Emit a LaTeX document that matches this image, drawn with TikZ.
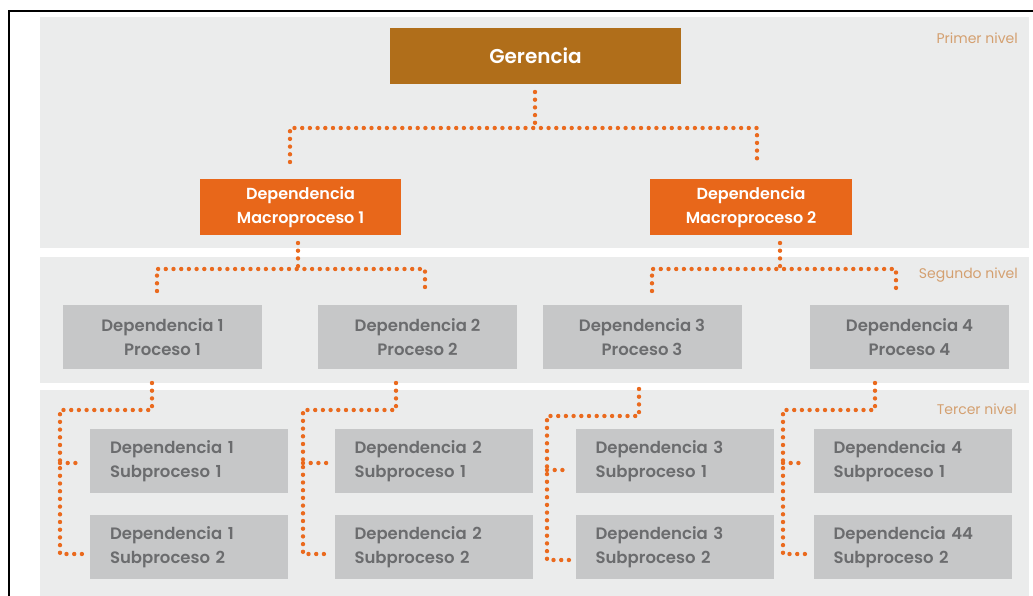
\documentclass[tikz,border=0pt]{standalone}
\usepackage{fontspec}
\setmainfont{Poppins}[BoldFont=* SemiBold]
\usetikzlibrary{calc}
\definecolor{bandgray}{HTML}{EBECEC}
\definecolor{boxgray}{HTML}{C6C7C8}
\definecolor{txtgray}{HTML}{6B6C6E}
\definecolor{gercol}{HTML}{B06E1A}
\definecolor{macrocol}{HTML}{E8671A}
\definecolor{dotcol}{HTML}{EA6A1E}
\definecolor{lvlcol}{HTML}{D4A070}
\tikzset{
  band/.style={fill=bandgray, draw=none},
  basebox/.style={rectangle, inner sep=0pt, font=\bfseries\fontsize{16.5}{24}\selectfont, align=center},
  gerbox/.style={basebox, fill=gercol, text=white, minimum width=291pt, minimum height=56pt, font=\bfseries\fontsize{20}{24}\selectfont},
  macbox/.style={basebox, fill=macrocol, text=white, minimum width=201pt, minimum height=56pt, font=\bfseries\fontsize{16}{24}\selectfont},
  procbox/.style={basebox, fill=boxgray, text=txtgray, minimum width=199pt, minimum height=64pt},
  subbox/.style={basebox, fill=boxgray, text=txtgray, minimum width=198pt, minimum height=64pt, text width=158pt, align=left, inner xsep=20pt},
  lvl/.style={anchor=east, text=lvlcol, font=\fontsize{14}{16}\selectfont, inner sep=0pt},
  dotline/.style={draw=dotcol, line width=4.4pt, line cap=round, dash pattern=on 0pt off 7.7pt},
}
\begin{document}
\begin{tikzpicture}[x=1pt,y=-1pt]
\useasboundingbox (0,0) rectangle (1033,596);
\fill[white] (0,0) rectangle (1033,596);
% bands
\fill[band] (40,17) rectangle (1029,248);
\fill[band] (40,257) rectangle (1029,383);
\fill[band] (40,390) rectangle (1029,596);
% frame
\draw[black, line width=1.8pt] (9,597) -- (9,11) -- (1034,11);
% level labels
\node[lvl] (l1) at (1018,38) {Primer nivel};
\node[lvl] (l2) at (1018,275) {Segundo nivel};
\node[lvl] (l3) at (1017,409) {Tercer nivel};
% nodes
\node[gerbox] (ger) at (535.5,56) {Gerencia};
\node[macbox] (m1) at (300.5,207) {Dependencia\\Macroproceso 1};
\node[macbox, minimum width=202pt] (m2) at (751,207) {Dependencia\\Macroproceso 2};
\node[procbox] (p1) at (162.5,337) {Dependencia 1\\Proceso 1};
\node[procbox] (p2) at (417.5,337) {Dependencia 2\\Proceso 2};
\node[procbox] (p3) at (642,337) {Dependencia 3\\Proceso 3};
\node[procbox] (p4) at (909.5,337) {Dependencia 4\\Proceso 4};
\node[subbox] (s11) at (189,461) {Dependencia 1\\Subproceso 1};
\node[subbox] (s12) at (189,547) {Dependencia 1\\Subproceso 2};
\node[subbox] (s21) at (433.5,461) {Dependencia 2\\Subproceso 1};
\node[subbox] (s22) at (433.5,547) {Dependencia 2\\Subproceso 2};
\node[subbox] (s31) at (674.5,461) {Dependencia 3\\Subproceso 1};
\node[subbox] (s32) at (674.5,547) {Dependencia 3\\Subproceso 2};
\node[subbox] (s41) at (912.5,461) {Dependencia 4\\Subproceso 1};
\node[subbox] (s42) at (912.5,547) {Dependencia 44\\Subproceso 2};
% connector coordinates
\coordinate (g0) at (535,92);
\coordinate (g1) at (535,128);
\coordinate (gl) at (290,128);
\coordinate (gr) at (757,128);
\coordinate (gl2) at (290,162);
\coordinate (gr2) at (757,162);
\draw[dotline] (g0) -- (g1);
\draw[dotline] (gl2) -- (gl) -- (gr) -- (gr2);
% macro 1
\coordinate (a0) at (298,243);
\coordinate (a1) at (298,269);
\coordinate (al) at (157,269);
\coordinate (ar) at (425,269);
\coordinate (al2) at (157,291);
\coordinate (ar2) at (425,291);
\draw[dotline] (a0) -- (a1);
\draw[dotline] (al2) -- (al) -- (ar) -- (ar2);
% macro 2
\coordinate (b0) at (780,243);
\coordinate (b1) at (780,269);
\coordinate (bl) at (652,269);
\coordinate (br) at (896,269);
\coordinate (bl2) at (652,291);
\coordinate (br2) at (896,291);
\draw[dotline] (b0) -- (b1);
\draw[dotline] (bl2) -- (bl) -- (br) -- (br2);
% dep 1
\coordinate (c0) at (152,383);
\coordinate (c1) at (152,410);
\coordinate (c2) at (60,410);
\coordinate (c3) at (60,554);
\coordinate (c4) at (60,463);
\coordinate (c5) at (82,463);
\coordinate (c6) at (85,554);
\draw[dotline] (c0) -- (c1) -- (c2) -- (c3) -- (c6);
\draw[dotline] (c4) -- (c5);
% dep 2
\coordinate (d0) at (396,383);
\coordinate (d1) at (396,410);
\coordinate (d2) at (303,410);
\coordinate (d3) at (303,554);
\coordinate (d4) at (303,463);
\coordinate (d5) at (327,463);
\coordinate (d6) at (327,554);
\draw[dotline] (d0) -- (d1) -- (d2) -- (d3) -- (d6);
\draw[dotline] (d4) -- (d5);
% dep 3
\coordinate (e0) at (639,389);
\coordinate (e1) at (639,416);
\coordinate (e2) at (547,416);
\coordinate (e3) at (547,560);
\coordinate (e4) at (547,470);
\coordinate (e5) at (570,470);
\coordinate (e6) at (570,560);
\draw[dotline] (e0) -- (e1) -- (e2) -- (e3) -- (e6);
\draw[dotline] (e4) -- (e5);
% dep 4
\coordinate (f0) at (875,383);
\coordinate (f1) at (875,410);
\coordinate (f2) at (783,410);
\coordinate (f3) at (783,554);
\coordinate (f4) at (783,463);
\coordinate (f5) at (805,463);
\coordinate (f6) at (807,554);
\draw[dotline] (f0) -- (f1) -- (f2) -- (f3) -- (f6);
\draw[dotline] (f4) -- (f5);
\end{tikzpicture}
\end{document}
